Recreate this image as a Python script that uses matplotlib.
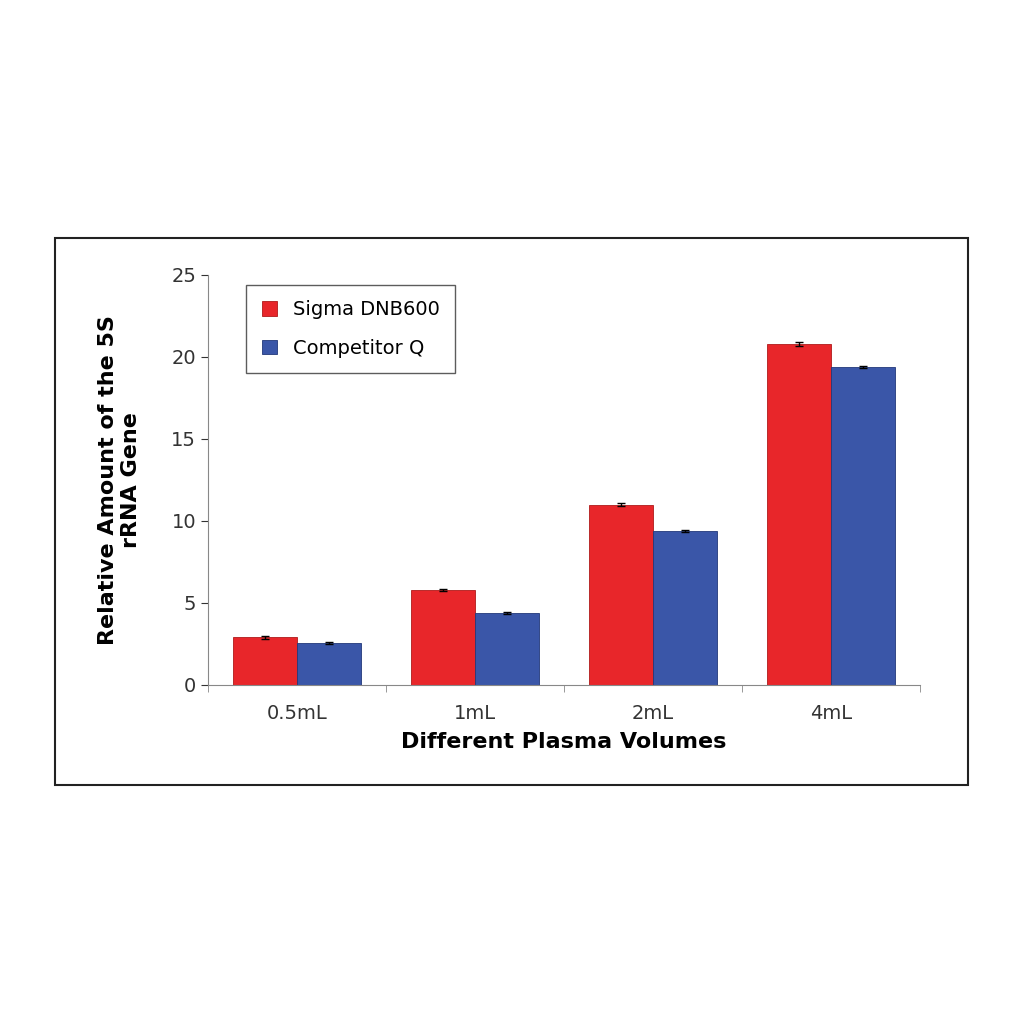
import matplotlib
matplotlib.use("Agg")
import matplotlib.pyplot as plt
import numpy as np
from matplotlib.patches import Rectangle

categories = ["0.5mL", "1mL", "2mL", "4mL"]
sigma = [2.9, 5.8, 11.0, 20.8]
competitor = [2.55, 4.4, 9.4, 19.4]
sigma_err = [0.1, 0.08, 0.08, 0.1]
comp_err = [0.08, 0.06, 0.08, 0.08]

fig = plt.figure(figsize=(10.24, 10.24), dpi=100)
fig.patches.append(Rectangle((55/1024, 1-785/1024), (968-55)/1024, (785-238)/1024,
                             transform=fig.transFigure, fill=False, edgecolor="#222222", lw=1.5))
ax = fig.add_axes([208/1024, 1-685/1024, (920-208)/1024, (685-275)/1024])
x = np.arange(len(categories))
w = 0.36
ax.bar(x - w/2, sigma, w, color="#e8262a", edgecolor="#b01a1a", lw=0.6,
       yerr=sigma_err, capsize=3, error_kw=dict(lw=1, ecolor="black"), label="Sigma DNB600")
ax.bar(x + w/2, competitor, w, color="#3a56a8", edgecolor="#22387a", lw=0.6,
       yerr=comp_err, capsize=3, error_kw=dict(lw=1, ecolor="black"), label="Competitor Q")
ax.set_xlim(-0.5, 3.5)
ax.set_ylim(0, 25)
ax.set_yticks([0, 5, 10, 15, 20, 25])
ax.set_xticks(x)
ax.set_xticks(np.arange(-0.5, 4, 1), minor=True)
ax.set_xticklabels(categories)
for s in ["top", "right"]:
    ax.spines[s].set_visible(False)
ax.spines["left"].set_color("#888888")
ax.spines["bottom"].set_color("#888888")
ax.tick_params(axis="both", labelsize=14, colors="#333333", length=5)
ax.tick_params(axis="x", which="major", length=0, pad=14)
ax.tick_params(axis="x", which="minor", length=5, color="#888888")
ax.set_xlabel("Different Plasma Volumes", fontsize=16, fontweight="bold", labelpad=6)
ax.set_ylabel("Relative Amount of the 5S\nrRNA Gene", fontsize=16, fontweight="bold", labelpad=22)
leg = ax.legend(loc="upper left", bbox_to_anchor=(0.04, 1.0), fontsize=14, frameon=True,
                fancybox=False, edgecolor="#333333", handlelength=0.8, handleheight=0.8,
                labelspacing=1.0, borderpad=0.8)
fig.savefig("out.png", dpi=100, facecolor="white")
